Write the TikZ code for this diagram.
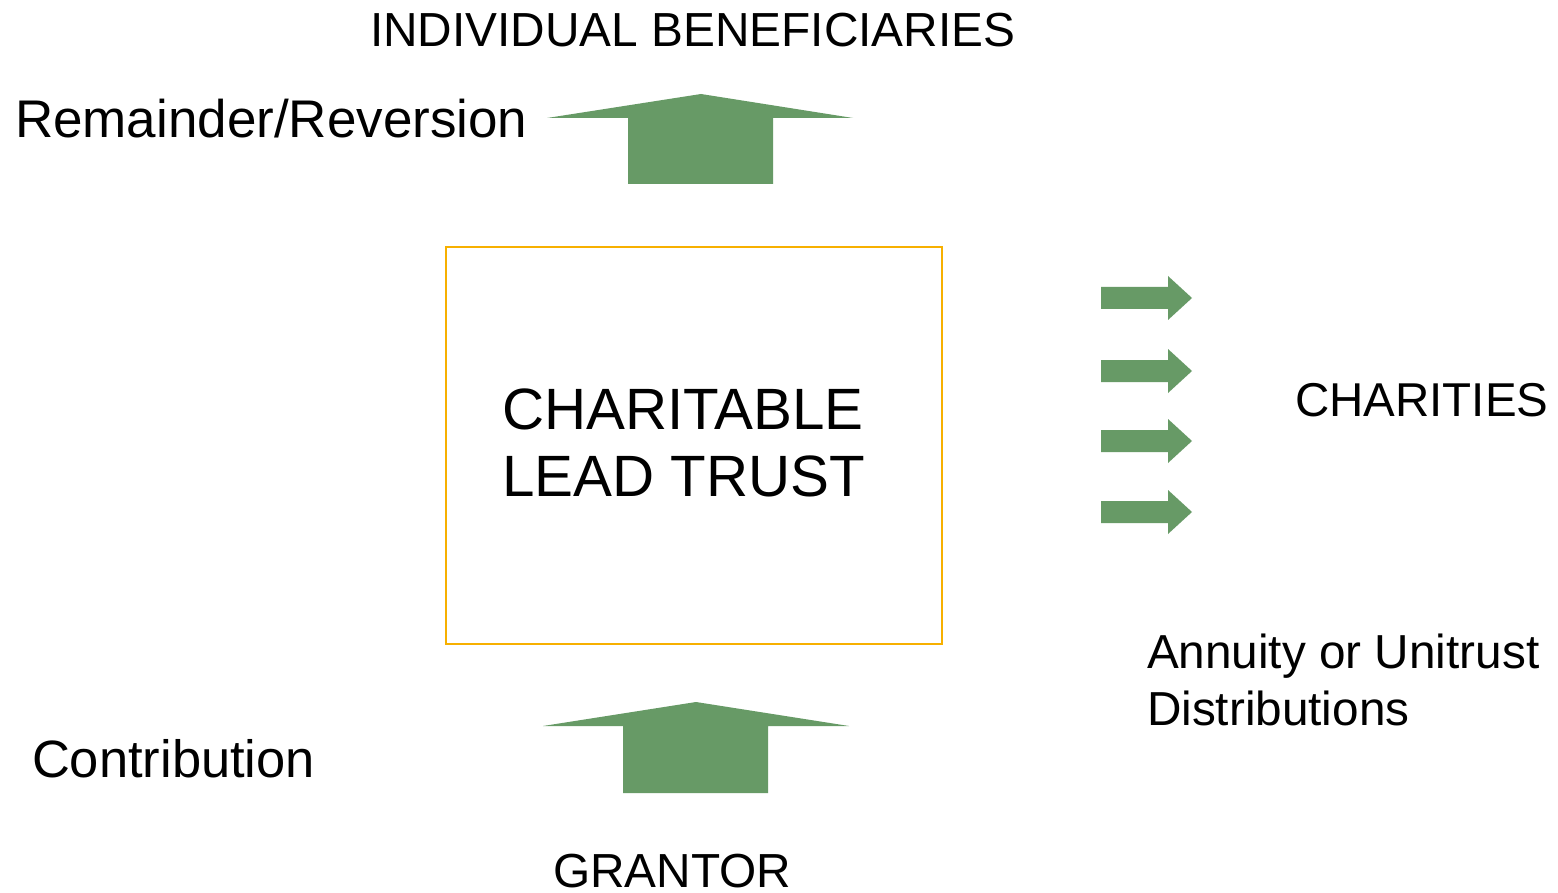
\documentclass[tikz,border=0pt]{standalone}
\usepackage{fontspec}
\setmainfont{Liberation Sans}
\definecolor{flowgreen}{RGB}{103,154,102}
\definecolor{trustorange}{RGB}{247,176,0}
\begin{document}
\begin{tikzpicture}[x=1pt,y=-1pt,
  lbl/.style={anchor=base west,inner sep=0pt,outer sep=0pt,text=black},
  flow/.style={fill=flowgreen,draw=none}]
\useasboundingbox (0,0) rectangle (1558,893);
\fill[white] (0,0) rectangle (1558,893);

% trust box
\node[draw=trustorange,line width=2.8pt,minimum width=496pt,minimum height=397pt,inner sep=0pt] (trust) at (694,445.5) {};
\node[lbl,font=\fontsize{58.3}{67}\selectfont] (trustA) at (502,429) {CHARITABLE};
\node[lbl,font=\fontsize{58.3}{67}\selectfont] (trustB) at (502,496) {LEAD TRUST};

% labels
\node[lbl,font=\fontsize{47.8}{52}\selectfont] (benef) at (370,47) {INDIVIDUAL BENEFICIARIES};
\node[lbl,font=\fontsize{53}{60}\selectfont] (remain) at (15,138) {Remainder/Reversion};
\node[lbl,font=\fontsize{47.5}{52}\selectfont] (charities) at (1295,416) {CHARITIES};
\node[lbl,font=\fontsize{47.7}{57}\selectfont] (annuityA) at (1147,668) {Annuity or Unitrust};
\node[lbl,font=\fontsize{47.7}{57}\selectfont] (annuityB) at (1147,725) {Distributions};
\node[lbl,font=\fontsize{52.5}{58}\selectfont] (contrib) at (32,777) {Contribution};
\node[lbl,font=\fontsize{47.8}{52}\selectfont] (grantor) at (553,887) {GRANTOR};

% upward block arrow to the beneficiaries
\fill[flow] (701,94) -- (853,118) -- (773,118) -- (773,184) -- (628,184) -- (628,118) -- (547,118) -- cycle;
% upward block arrow from the grantor
\fill[flow] (696,702) -- (849,726) -- (768,726) -- (768,793) -- (623,793) -- (623,726) -- (543,726) -- cycle;

% distributions to the charities
\foreach \cy in {298,371,441,512}{
  \fill[flow] (1101,\cy-11) -- (1168,\cy-11) -- (1168,\cy-22) -- (1192,\cy) -- (1168,\cy+22) -- (1168,\cy+11) -- (1101,\cy+11) -- cycle;
}
\end{tikzpicture}
\end{document}
